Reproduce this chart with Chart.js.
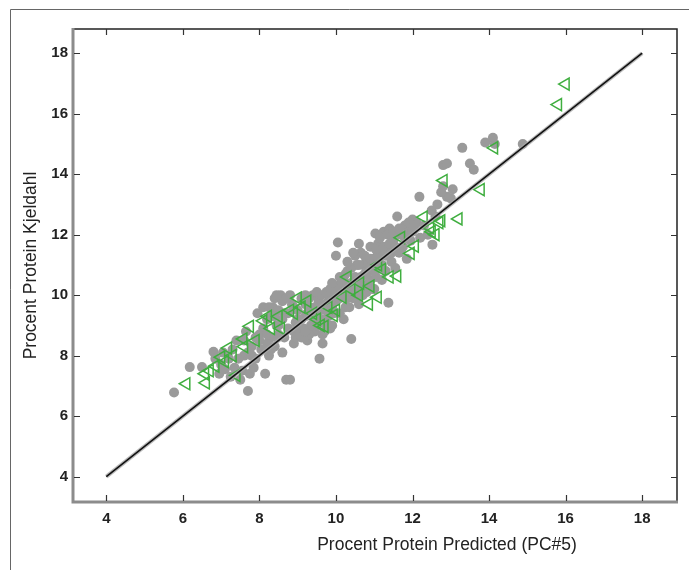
<!DOCTYPE html>
<html>
<head>
<meta charset="utf-8">
<script src="https://cdn.jsdelivr.net/npm/chart.js@4/dist/chart.umd.min.js"></script>
<style>
html,body{margin:0;padding:0;background:#fff;}
#wrap{position:absolute;left:0;top:0;width:689px;height:570px;}
</style>
</head>
<body>
<div id="wrap"><canvas id="c" width="689" height="570"></canvas></div>
<script>
// ---- data ----
const xTickValues = [4, 6, 8, 10, 12, 14, 16, 18];
const yTickValues = [4, 6, 8, 10, 12, 14, 16, 18];
const xTitle = "Procent Protein Predicted (PC#5)";
const yTitle = "Procent Protein Kjeldahl";

// calibration samples (gray dots)
const grayX = [
 5.77,6.18,6.5,6.8,6.85,7.0,7.05,6.95,
 7.2,7.3,7.35,7.4,7.5,7.55,7.6,7.65,7.7,7.75,7.8,7.85,7.9,7.95,7.45,7.25,7.1,7.7,7.9,
 8.05,8.1,8.15,8.2,8.25,8.3,8.35,8.4,8.45,8.5,8.55,8.6,8.65,8.7,8.8,8.75,8.8,8.85,8.9,8.95,8.0,8.2,8.4,8.6,8.7,8.3,8.5,8.9,8.1,8.45,
 9.0,9.05,9.1,9.15,9.2,9.25,9.3,9.35,9.4,9.45,9.5,9.55,9.57,9.6,9.65,9.7,9.75,9.8,9.85,9.9,9.95,9.0,9.2,9.4,9.6,9.8,9.1,9.3,9.5,9.7,9.9,9.65,
 10.0,10.05,10.0,10.05,10.1,10.15,10.2,10.25,10.3,10.35,10.4,10.45,10.5,10.55,10.6,10.65,10.7,10.75,10.8,10.85,10.9,10.95,10.2,10.4,10.6,10.8,10.3,10.5,10.7,10.9,10.1,10.6,
 11.0,11.03,11.05,11.1,11.15,11.2,11.25,11.3,11.37,11.35,11.4,11.45,11.5,11.55,11.6,11.65,11.7,11.75,11.8,11.85,11.9,11.95,12.0,11.2,11.0,
 12.1,12.18,12.2,12.3,12.4,12.5,12.52,12.6,12.65,12.8,12.9,12.8,12.9,12.75,13.0,13.05,
 13.3,13.5,13.6,13.9,14.1,14.15,14.88,
 7.6,7.8,8.0,8.2,8.3,8.4,8.5,8.6,8.65,8.25,8.45,8.75,8.9,8.95,
 9.0,9.1,9.2,9.25,9.3,9.35,9.45,9.55,9.6,9.7,9.75,9.8,9.85,9.9,9.95,9.5,9.2,9.75,
 10.0,10.1,10.15,10.2,10.25,10.3,10.35,10.4,10.45,10.5,10.55,10.6,10.65,10.7,10.75,10.8,10.85,10.9,10.95,10.45,10.3,
 11.0,11.05,11.1,11.15,11.2,11.25,11.3,11.35,11.4,11.45,11.5,11.55,11.65,11.7,11.8,11.9,12.0,12.05
];
const grayY = [
 6.78,7.62,7.62,8.13,7.9,7.7,8.1,7.4,
 7.9,8.2,7.6,8.5,7.2,7.5,8.0,8.8,6.83,7.4,8.3,7.6,8.6,9.4,7.9,7.3,7.55,8.1,7.9,
 8.2,8.9,7.4,9.2,8.0,8.6,9.6,8.3,9.0,8.7,10.0,8.1,9.4,7.2,7.2,8.9,10.0,9.7,8.4,9.1,8.7,8.4,9.9,9.8,9.9,9.3,9.5,8.8,9.6,8.6,
 9.5,8.7,9.9,8.9,9.3,8.5,9.6,9.0,10.0,8.8,9.4,9.8,7.9,9.1,8.4,9.7,10.1,9.3,8.9,9.6,10.2,8.9,10.0,9.3,10.0,10.0,9.2,8.7,9.0,9.2,9.0,8.7,
 11.3,11.74,9.8,10.3,9.4,10.0,10.5,9.6,10.8,10.1,8.55,9.9,10.6,11.0,10.3,11.4,10.0,10.7,11.2,10.4,11.6,10.9,9.2,10.4,9.7,10.1,9.9,11.3,11.0,10.5,10.6,11.7,
 11.2,12.04,10.6,11.7,10.9,11.4,12.1,10.8,9.75,11.5,12.2,11.1,11.8,10.9,12.6,11.4,12.0,11.6,12.3,11.2,12.1,11.8,12.5,10.5,10.2,
 12.4,13.25,11.9,12.3,12.0,12.8,11.67,12.6,13.0,13.6,13.25,14.3,14.35,13.4,13.2,13.5,
 14.87,14.35,14.15,15.05,15.2,15.0,15.0,
 8.5,8.0,8.5,8.7,8.2,9.3,9.0,9.2,8.6,9.6,10.0,9.4,9.6,8.6,
 9.2,8.6,8.8,9.4,9.9,9.3,9.6,9.2,9.5,8.8,9.5,9.8,10.2,10.4,9.4,10.1,9.7,9.05,
 10.1,9.9,10.4,10.0,10.7,10.3,9.6,10.9,10.2,10.0,10.5,11.0,10.6,10.3,11.3,10.7,11.0,11.2,10.2,11.4,11.1,
 10.8,11.5,11.2,11.9,11.0,11.6,11.3,12.0,11.7,11.4,12.1,11.6,12.2,11.5,11.9,12.4,12.1,12.3
];

// validation samples (green triangles)
const greenX = [
 6.09,6.6,6.58,6.85,7.0,7.18,7.4,7.58,7.75,8.1,8.22,8.56,8.8,9.0,9.25,9.5,9.7,9.94,10.17,10.4,10.63,10.86,11.09,11.2,11.6,11.95,12.06,12.29,12.46,12.75,12.81,13.2,13.78,14.13,15.8,16.0,
 6.7,7.1,7.3,7.6,7.9,8.3,8.5,8.9,9.1,9.4,9.6,9.8,10.0,10.3,10.6,10.9,11.1,11.4,11.7,12.5,12.6,12.7
];
const greenY = [
 7.07,7.1,7.4,7.65,7.95,8.25,7.35,8.55,8.97,9.15,9.3,8.9,9.5,9.9,9.8,9.2,8.97,9.33,9.93,10.18,10.4,9.7,9.93,10.84,10.63,11.38,11.62,12.58,12.22,12.46,13.79,12.52,13.49,14.87,16.3,16.98,
 7.5,7.8,8.0,8.3,8.5,8.9,9.3,9.4,9.6,9.4,9.0,9.6,9.5,10.6,10.0,10.3,11.0,10.6,11.9,12.1,12.0,12.4
];

// 1:1 reference line
const lineX = [4, 18];
const lineY = [4, 18];

// ---- build ----
const toPts = (xs, ys) => xs.map((v, i) => ({x: v, y: ys[i]}));

const FONT = "'Liberation Sans', Arial, sans-serif";

const framePlugin = {
  id: 'framePlugin',
  beforeDraw(chart) {
    const ctx = chart.ctx;
    ctx.save();
    ctx.fillStyle = '#fff';
    ctx.fillRect(0, 0, chart.width, chart.height);
    ctx.strokeStyle = '#666';
    ctx.lineWidth = 1;
    ctx.beginPath();
    ctx.moveTo(10.5, chart.height);
    ctx.lineTo(10.5, 9.5);
    ctx.lineTo(chart.width, 9.5);
    ctx.stroke();
    ctx.restore();
  },
  afterDraw(chart) {
    const ctx = chart.ctx;
    const a = chart.chartArea;
    const xs = chart.scales.x, ys = chart.scales.y;
    ctx.save();
    // axis box
    ctx.lineWidth = 1.5;
    ctx.strokeStyle = '#222';
    ctx.beginPath();
    ctx.moveTo(a.left, a.top); ctx.lineTo(a.right, a.top); ctx.lineTo(a.right, a.bottom);
    ctx.stroke();
    ctx.lineWidth = 3;
    ctx.strokeStyle = '#8c8c8c';
    ctx.beginPath();
    ctx.moveTo(a.left, a.top - 1); ctx.lineTo(a.left, a.bottom); ctx.lineTo(a.right + 1, a.bottom);
    ctx.stroke();
    // inward ticks
    ctx.lineWidth = 1.2;
    ctx.strokeStyle = '#333';
    ctx.beginPath();
    xTickValues.forEach(v => {
      const p = Math.round(xs.getPixelForValue(v)) + 0.5;
      ctx.moveTo(p, a.bottom - 1); ctx.lineTo(p, a.bottom - 7);
      ctx.moveTo(p, a.top); ctx.lineTo(p, a.top + 6);
    });
    yTickValues.forEach(v => {
      const p = Math.round(ys.getPixelForValue(v)) + 0.5;
      ctx.moveTo(a.left + 1, p); ctx.lineTo(a.left + 7, p);
      ctx.moveTo(a.right, p); ctx.lineTo(a.right - 6, p);
    });
    ctx.stroke();
    // titles
    ctx.fillStyle = '#222';
    ctx.font = '17.5px ' + FONT;
    ctx.textAlign = 'center';
    ctx.textBaseline = 'middle';
    ctx.fillText(xTitle, 447, 545);
    ctx.translate(31, (a.top + a.bottom) / 2);
    ctx.rotate(-Math.PI / 2);
    ctx.fillText(yTitle, 0, 0);
    ctx.restore();
  }
};

new Chart(document.getElementById('c'), {
  type: 'scatter',
  data: {
    datasets: [
      {
        label: 'Calibration',
        data: toPts(grayX, grayY),
        pointStyle: 'circle',
        pointRadius: 5,
        backgroundColor: '#9a9a9a',
        borderWidth: 0,
        order: 4
      },
      {
        label: 'Validation',
        data: toPts(greenX, greenY),
        pointStyle: 'triangle',
        rotation: -90,
        pointRadius: 7,
        backgroundColor: 'rgba(0,0,0,0)',
        borderColor: '#3fae3f',
        borderWidth: 1.5,
        order: 3
      },
      {
        label: 'halo',
        data: toPts(lineX, lineY),
        showLine: true,
        borderColor: 'rgba(170,170,170,0.8)',
        borderWidth: 4,
        pointRadius: 0,
        order: 2
      },
      {
        label: '1:1',
        data: toPts(lineX, lineY),
        showLine: true,
        borderColor: '#111',
        borderWidth: 1.6,
        pointRadius: 0,
        order: 1
      }
    ]
  },
  options: {
    responsive: false,
    animation: false,
    events: [],
    layout: {padding: {left: 0, top: 29, right: 12, bottom: 0}},
    plugins: {legend: {display: false}, tooltip: {enabled: false}},
    scales: {
      x: {
        type: 'linear',
        min: 3.13, max: 18.91,
        afterFit(s) { s.height = 68; },
        afterBuildTicks(s) { s.ticks = xTickValues.map(v => ({value: v})); },
        grid: {display: false, drawTicks: false},
        border: {display: false},
        ticks: {padding: 8, color: '#222', font: {family: FONT, size: 15, weight: 'bold'}}
      },
      y: {
        type: 'linear',
        min: 3.16, max: 18.8,
        afterFit(s) { s.width = 73; },
        afterBuildTicks(s) { s.ticks = yTickValues.map(v => ({value: v})); },
        grid: {display: false, drawTicks: false},
        border: {display: false},
        ticks: {padding: 5, color: '#222', font: {family: FONT, size: 15, weight: 'bold'}}
      }
    }
  },
  plugins: [framePlugin]
});
</script>
</body>
</html>
